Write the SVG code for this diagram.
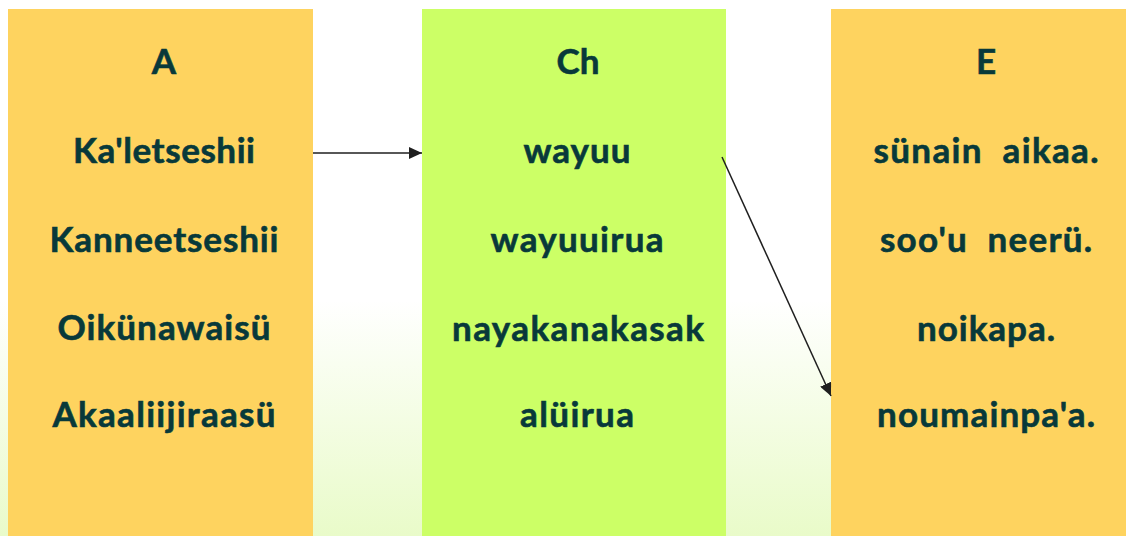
<svg xmlns="http://www.w3.org/2000/svg" width="1126" height="536" viewBox="0 0 1126 536">
  <defs>
    <linearGradient id="bg" x1="0" y1="0" x2="0" y2="1">
      <stop offset="0" stop-color="#ffffff"/>
      <stop offset="0.56" stop-color="#ffffff"/>
      <stop offset="1" stop-color="#e9fbc9"/>
    </linearGradient>
    <marker id="arrow" viewBox="0 0 13 12" refX="13" refY="6" markerWidth="13" markerHeight="12" markerUnits="userSpaceOnUse" orient="auto">
      <path d="M0,0 L13,6 L0,12 Z" fill="#1f1f1f"/>
    </marker>
    <style>
      .yellow { fill: #fed35f; }
      .green { fill: #ccff66; }
      .t { font-family: Lato, "Open Sans", "Liberation Sans", sans-serif; font-weight: 700; font-size: 35px; fill: #08393a; stroke: #08393a; stroke-width: 0.6; text-anchor: middle; }
      .conn { stroke: #1f1f1f; stroke-width: 1.5; fill: none; marker-end: url(#arrow); }
    </style>
  </defs>
  <rect x="0" y="0" width="1126" height="536" fill="url(#bg)"/>
  <g id="col-a">
    <rect class="yellow" x="8" y="9" width="305" height="527"/>
    <text class="t" x="164" y="74">A</text>
    <text class="t" x="164" y="163" textLength="182" lengthAdjust="spacing">Ka'letseshii</text>
    <text class="t" x="164" y="252" textLength="229" lengthAdjust="spacing">Kanneetseshii</text>
    <text class="t" x="164" y="340" textLength="213" lengthAdjust="spacing">Oikünawaisü</text>
    <text class="t" x="164" y="427" textLength="223" lengthAdjust="spacing">Akaaliijiraasü</text>
  </g>
  <g id="col-ch">
    <rect class="green" x="422" y="9" width="304" height="527"/>
    <text class="t" x="578" y="74">Ch</text>
    <text class="t" x="577" y="163" textLength="107" lengthAdjust="spacing">wayuu</text>
    <text class="t" x="577" y="252" textLength="173" lengthAdjust="spacing">wayuuirua</text>
    <text class="t" x="578" y="341" textLength="252" lengthAdjust="spacing">nayakanakasak</text>
    <text class="t" x="577" y="427" textLength="114" lengthAdjust="spacing">alüirua</text>
  </g>
  <g id="col-e">
    <rect class="yellow" x="831" y="9" width="295" height="527"/>
    <text class="t" x="986" y="74">E</text>
    <text class="t" x="986" y="163" xml:space="preserve" textLength="225" lengthAdjust="spacing">sünain  aikaa.</text>
    <text class="t" x="986" y="252" xml:space="preserve" textLength="212" lengthAdjust="spacing">soo'u  neerü.</text>
    <text class="t" x="986" y="341" textLength="138" lengthAdjust="spacing">noikapa.</text>
    <text class="t" x="986" y="427" textLength="218" lengthAdjust="spacing">noumainpa'a.</text>
  </g>
  <g id="connectors">
    <line class="conn" x1="313" y1="153" x2="422" y2="153"/>
    <line class="conn" x1="722" y1="157" x2="831" y2="396"/>
  </g>
</svg>
